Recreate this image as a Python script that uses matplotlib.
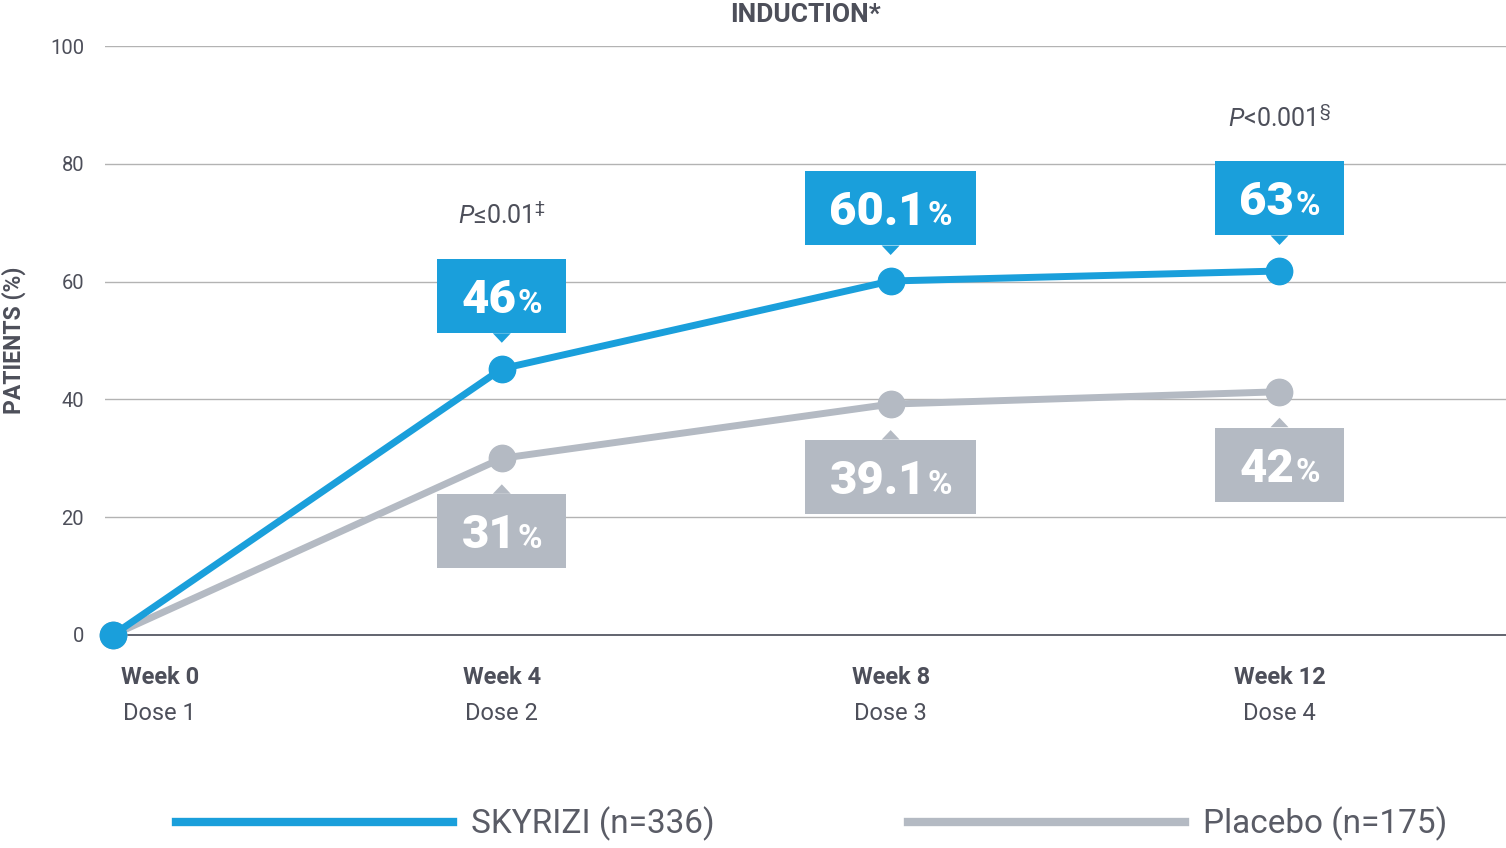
import matplotlib
matplotlib.use("Agg")
import matplotlib.pyplot as plt
import matplotlib.transforms as mtransforms
from matplotlib.offsetbox import TextArea, HPacker, AnnotationBbox
from matplotlib.patches import Rectangle, Polygon
from matplotlib.lines import Line2D

plt.rcParams['font.family'] = ['Roboto', 'DejaVu Sans']
plt.rcParams['mathtext.fontset'] = 'custom'
plt.rcParams['mathtext.rm'] = 'Roboto'
plt.rcParams['mathtext.it'] = 'Roboto:italic'

# data
weeks = [0, 4, 8, 12]
week_labels = ["Week 0", "Week 4", "Week 8", "Week 12"]
dose_labels = ["Dose 1", "Dose 2", "Dose 3", "Dose 4"]
skyrizi = [0, 45.2, 60.1, 61.8]
placebo = [0, 30.0, 39.2, 41.3]
skyrizi_labels = ["46", "60.1", "63"]
placebo_labels = ["31", "39.1", "42"]
p_values = {4: r"$\it{P}$≤0.01$^{\ddag}$", 12: r"$\it{P}$<0.001$^{\S}$"}
yticks = [0, 20, 40, 60, 80, 100]

BLUE = "#1a9fdb"
GREY = "#b4bac3"
TXT = "#4d4f5a"

fig = plt.figure(figsize=(15.06, 8.48), dpi=100)
ax = fig.add_axes([105 / 1506, 1 - 635 / 848, 1 - 105 / 1506, (635 - 46) / 848])
ax.set_xlim(-0.082, 14.33)
ax.set_ylim(0, 100)
for s in ax.spines.values():
    s.set_visible(False)
ax.set_xticks([])
ax.set_yticks(yticks)
ax.tick_params(axis='y', length=0, pad=15, labelsize=14.5, labelcolor=TXT)
for t in yticks[1:]:
    ax.axhline(t, color="#b3b3b3", lw=1, zorder=0)
ax.plot([0, 14.33], [0, 0], color="#555863", lw=1.3, zorder=1, clip_on=False)

ax.plot(weeks, placebo, color=GREY, lw=5, marker='o', ms=19, zorder=3, clip_on=False)
ax.plot(weeks, skyrizi, color=BLUE, lw=5, marker='o', ms=19, zorder=4, clip_on=False)

ax.set_title("INDUCTION*", fontsize=19, fontweight='bold', color=TXT, pad=17)
ax.set_ylabel("PATIENTS (%)", fontsize=16.5, fontweight='bold', color=TXT, va='center')
ax.yaxis.set_label_coords((14 - 105) / 1401, 0.5)

callouts = []


def callout(x, y, num, color, above):
    cy = 73 if above else -73
    a = TextArea(num, textprops=dict(color='white', fontsize=34, fontweight='black'))
    b = TextArea("%", textprops=dict(color='white', fontsize=24, fontweight='bold'))
    box = HPacker(children=[a, b], align='baseline', pad=0, sep=1)
    ab = AnnotationBbox(box, (x, y), xybox=(0, cy - 4), boxcoords='offset pixels',
                        box_alignment=(0.5, 0.5), frameon=False, pad=0, zorder=6)
    ax.add_artist(ab)
    callouts.append((ab, x, y, color, above, cy))


for x, y, lab in zip(weeks[1:], skyrizi[1:], skyrizi_labels):
    callout(x, y, lab, BLUE, True)
for x, y, lab in zip(weeks[1:], placebo[1:], placebo_labels):
    callout(x, y, lab, GREY, False)

# p-values
for wk, txt in p_values.items():
    yv = skyrizi[weeks.index(wk)]
    ax.annotate(txt, (wk, yv), xytext=(0, 153), textcoords='offset pixels',
                ha='center', va='center', fontsize=18, color=TXT)

# x labels
xt = mtransforms.blended_transform_factory(ax.transData, fig.transFigure)
for i, (wk, w, d) in enumerate(zip(weeks, week_labels, dose_labels)):
    shift = 0.48 if i == 0 else 0
    ax.text(wk + shift, 1 - 678 / 848, w, transform=xt, ha='center', va='center',
            fontsize=17, fontweight='bold', color=TXT)
    ax.text(wk + shift, 1 - 713 / 848, d, transform=xt, ha='center', va='center',
            fontsize=17, color=TXT)

# legend
handles = [Line2D([], [], color=BLUE, lw=6), Line2D([], [], color=GREY, lw=6)]
leg = fig.legend(handles, ["SKYRIZI (n=336)", "Placebo (n=175)"], loc='center left',
                 bbox_to_anchor=(176 / 1506, 1 - 824 / 848), ncol=2, frameon=False,
                 borderpad=0, borderaxespad=0, handlelength=8.3, handletextpad=0.55,
                 columnspacing=5.8, prop=dict(size=24, weight='normal'))
for t in leg.get_texts():
    t.set_color("#5a5c66")

# boxes behind the callout numbers, sized to the text
fig.canvas.draw()
r = fig.canvas.get_renderer()
for ab, x, y, color, above, cy in callouts:
    w = ab.offsetbox.get_window_extent(r).width + 48
    tr = mtransforms.Affine2D() + mtransforms.ScaledTranslation(x, y, ax.transData)
    ax.add_patch(Rectangle((-w / 2, cy - 37), w, 74, transform=tr, facecolor=color,
                           edgecolor='none', zorder=5, clip_on=False))
    if above:
        tri = [(-9, cy - 37.5), (9, cy - 37.5), (0, cy - 47)]
    else:
        tri = [(-9, cy + 37.5), (9, cy + 37.5), (0, cy + 47)]
    ax.add_patch(Polygon(tri, closed=True, transform=tr, facecolor=color,
                         edgecolor='none', zorder=5, clip_on=False))

fig.savefig("out.png", dpi=100)
